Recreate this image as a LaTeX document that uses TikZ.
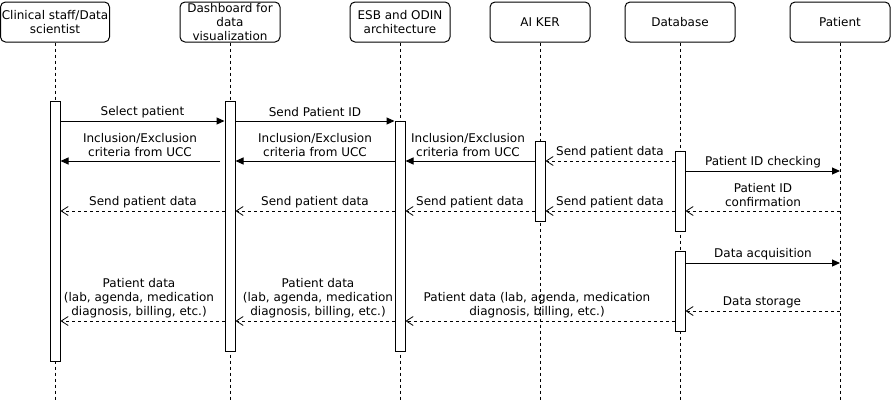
\documentclass[tikz,border=0pt]{standalone}
\usepackage{fontspec}
\setmainfont{DejaVu Sans}
\usetikzlibrary{arrows.meta}
\begin{document}
\begin{tikzpicture}[x=1pt,y=-1pt,
  txt/.style={font=\fontsize{12}{14}\selectfont, align=center},
  hdr/.style={txt, draw, rounded corners=5pt, line width=1pt, minimum width=#1, minimum height=40pt, inner sep=0pt},
  hdr/.default=100pt,
  life/.style={line width=0.8pt, dash pattern=on 3pt off 3pt},
  act/.style={draw, fill=white, line width=1pt, minimum width=10pt, minimum height=#1, inner sep=0pt},
  msg/.style={line width=1pt, -{Triangle[length=8pt,width=7pt]}},
  ret/.style={line width=0.8pt, dash pattern=on 3pt off 3pt, -{Straight Barb[length=7pt,width=9pt,line width=0.8pt]}},
  lbl/.style={txt, inner sep=0pt, fill=white, fill opacity=0, text opacity=1}
]
\useasboundingbox (0,0) rectangle (891,402);

% headers
\node[hdr=109pt] (h1) at (55,22) {Clinical staff/Data\\scientist};
\node[hdr] (h2) at (230,22) {Dashboard for\\data\\visualization};
\node[hdr] (h3) at (400,22) {ESB and ODIN\\architecture};
\node[hdr] (h4) at (540,22) {AI KER};
\node[hdr=110pt] (h5) at (680,22) {Database};
\node[hdr] (h6) at (840,22) {Patient};

% lifeline ends
\coordinate (e1) at (55,402);
\coordinate (e2) at (230,402);
\coordinate (e3) at (400,402);
\coordinate (e4) at (540,402);
\coordinate (e5) at (680,402);
\coordinate (e6) at (840,402);
\foreach \i in {1,...,6} \draw[life] (h\i.south) -- (e\i);

% activations
\node[act=260pt] (a1) at (55,231.5) {};
\node[act=250pt] (a2) at (230,226.5) {};
\node[act=230pt] (a3) at (400,236.5) {};
\node[act=80pt] (a4) at (540,181.5) {};
\node[act=80pt] (a5) at (680,191.5) {};
\node[act=80pt] (a6) at (680,291.5) {};

% messages
\draw[msg] (a1.east |- 0,121) -- (a2.west |- 0,121);
\node[lbl] (l1) at (142.5,112) {Select patient};
\draw[msg] (a2.east |- 0,121) -- (a3.west |- 0,121);
\node[lbl] (l2) at (315,112) {Send Patient ID};

\draw[msg] (220,161) -- (a1.east |- 0,161);
\node[lbl] (l3) at (140,145) {Inclusion/Exclusion\\criteria from UCC};
\draw[msg] (a3.west |- 0,161) -- (a2.east |- 0,161);
\node[lbl] (l4) at (315,145) {Inclusion/Exclusion\\criteria from UCC};
\draw[msg] (a4.west |- 0,161) -- (a3.east |- 0,161);
\node[lbl] (l5) at (468,145) {Inclusion/Exclusion\\criteria from UCC};

\draw[ret] (a5.west |- 0,161) -- (a4.east |- 0,161);
\node[lbl] (l6) at (610,152) {Send patient data};

\draw[msg] (a5.east |- 0,171) -- (h6.south |- 0,171);
\node[lbl] (l7) at (763,162) {Patient ID checking};
\draw[ret] (h6.south |- 0,211) -- (a5.east |- 0,211);
\node[lbl] (l8) at (763,195) {Patient ID\\confirmation};

\draw[ret] (a5.west |- 0,211) -- (a4.east |- 0,211);
\node[lbl] (l9) at (610,202) {Send patient data};
\draw[ret] (a4.west |- 0,211) -- (a3.east |- 0,211);
\node[lbl] (l10) at (470,202) {Send patient data};
\draw[ret] (a3.west |- 0,211) -- (a2.east |- 0,211);
\node[lbl] (l11) at (315,202) {Send patient data};
\draw[ret] (a2.west |- 0,211) -- (a1.east |- 0,211);
\node[lbl] (l12) at (143,202) {Send patient data};

\draw[msg] (a6.east |- 0,263) -- (h6.south |- 0,263);
\node[lbl] (l13) at (763,254) {Data acquisition};
\draw[ret] (h6.south |- 0,311) -- (a6.east |- 0,311);
\node[lbl] (l14) at (762,302) {Data storage};

\draw[ret] (a6.west |- 0,321) -- (a3.east |- 0,321);
\node[lbl] (l15) at (537,305) {Patient data (lab, agenda, medication\\diagnosis, billing, etc.)};
\draw[ret] (a3.west |- 0,321) -- (a2.east |- 0,321);
\node[lbl] (l16) at (318,298) {Patient data\\(lab, agenda, medication\\diagnosis, billing, etc.)};
\draw[ret] (a2.west |- 0,321) -- (a1.east |- 0,321);
\node[lbl] (l17) at (139,298) {Patient data\\(lab, agenda, medication\\diagnosis, billing, etc.)};
\end{tikzpicture}
\end{document}
